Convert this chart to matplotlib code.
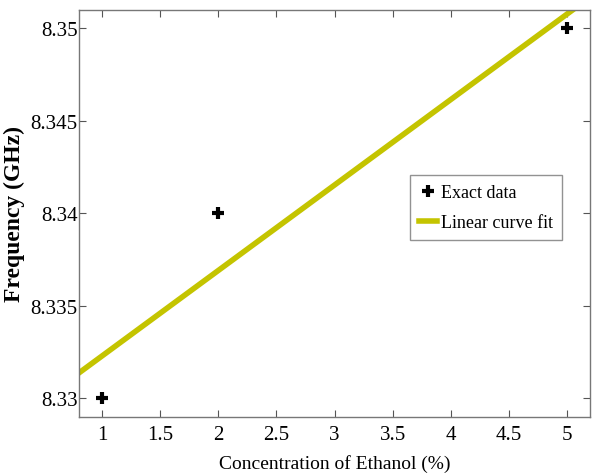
import numpy as np
import matplotlib.pyplot as plt

plt.rcParams['font.family'] = ['Liberation Serif', 'DejaVu Serif']

# measured data
concentration = [1, 2, 5]
frequency = [8.33, 8.34, 8.35]

# least squares straight line through the measurements
slope, intercept = np.polyfit(concentration, frequency, 1)
x_fit = np.array([0.8, 5.2])
y_fit = slope * x_fit + intercept

fig = plt.figure(figsize=(5.96, 4.77), dpi=100)
ax = fig.add_axes([0.1326, 0.1237, 0.8574, 0.8533])

ax.plot(concentration, frequency, '+', color='black', markersize=9, markeredgewidth=3,
        label='Exact data', zorder=3)
ax.plot(x_fit, y_fit, color='#c4c400', linewidth=4, label='Linear curve fit', zorder=2)

ax.set_xlim(0.8, 5.2)
ax.set_ylim(8.329, 8.351)
ax.set_xticks([1, 1.5, 2, 2.5, 3, 3.5, 4, 4.5, 5])
ax.set_xticklabels(['1', '1.5', '2', '2.5', '3', '3.5', '4', '4.5', '5'])
ax.set_yticks([8.33, 8.335, 8.34, 8.345, 8.35])
ax.set_yticklabels(['8.33', '8.335', '8.34', '8.345', '8.35'])

ax.tick_params(direction='in', top=True, right=True, length=5, width=0.8,
               color='#555555', labelsize=15)
ax.tick_params(axis='x', pad=6)
ax.tick_params(axis='y', pad=1)
for sp in ax.spines.values():
    sp.set_color('#777777')
    sp.set_linewidth(1.0)

ax.set_xlabel('Concentration of Ethanol (%)', fontsize=14, labelpad=7)
ax.set_ylabel('Frequency (GHz)', fontsize=17, fontweight='bold', labelpad=4)

leg = ax.legend(loc='upper left', bbox_to_anchor=(0.648, 0.595), fontsize=13,
                frameon=True, fancybox=False, handlelength=1.0, handletextpad=0.2,
                borderpad=0.5, labelspacing=0.75, borderaxespad=0)
leg.get_frame().set_edgecolor('#777777')
leg.get_frame().set_linewidth(1.0)

fig.savefig('out.png', dpi=100)
